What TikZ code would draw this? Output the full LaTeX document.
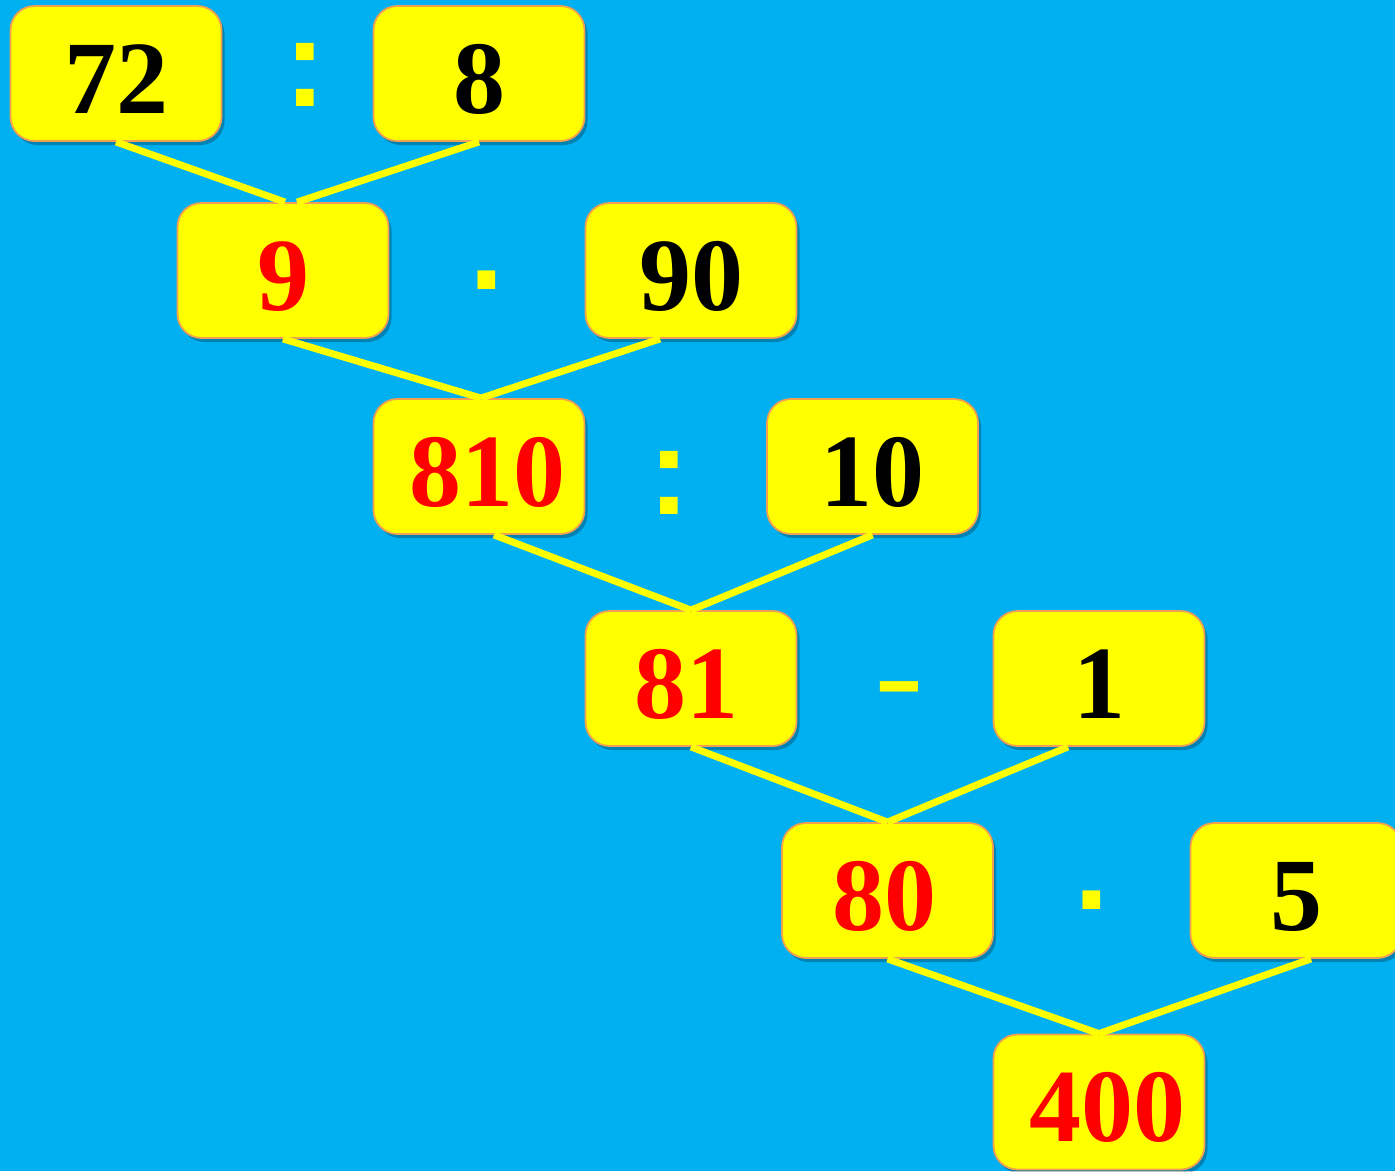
\documentclass[tikz,border=0pt]{standalone}
\usepackage{fontspec}
\setmainfont{Liberation Serif}
\newfontfamily\opfont{Liberation Sans}
\usetikzlibrary{shadows}
\definecolor{bgblue}{RGB}{0,176,240}
\definecolor{boxyellow}{RGB}{255,255,0}
\definecolor{boxedge}{RGB}{240,160,80}
\definecolor{ansred}{RGB}{255,0,0}
\tikzset{
  numbox/.style={draw=boxedge, line width=1.8pt, fill=boxyellow, rounded corners=24pt,
    minimum width=211pt, minimum height=135pt, inner sep=0pt,
    text height=79pt, text depth=0pt,
    font=\fontsize{104}{110}\selectfont\bfseries,
    drop shadow={shadow xshift=3pt, shadow yshift=-4pt, opacity=0.25, fill=black}},
  given/.style={numbox, text=black},
  result/.style={numbox, text=ansred},
  opsign/.style={text=boxyellow, inner sep=0pt, font=\fontsize{125}{130}\selectfont\opfont\bfseries},
  link/.style={draw=boxyellow, line width=7pt}
}
\begin{document}
\begin{tikzpicture}[x=1pt,y=-1pt]
\fill[bgblue] (0,0) rectangle (1395,1171);
\useasboundingbox (0,0) rectangle (1395,1171);
% row 1
\node[given]  (a) at (116,73.5) {72};
\node[opsign] (o1) at (305.5,74.5) {:};
\node[given]  (b) at (479,73.5) {8};
% row 2
\node[result] (c) at (283,270.5) {9};
\node[opsign] (o2) at (487,280) {.};
\node[given]  (d) at (691,270.5) {90};
% row 3
\node[result] (e) at (479,466.5) {\hspace*{16pt}810};
\node[opsign] (o3) at (669,483) {:};
\node[given]  (f) at (872.5,466.5) {10};
% row 4
\node[result] (g) at (691,678.5) {\hspace*{-10pt}81};
\node[opsign] (o4) at (899,696) {\scalebox{1.2}[0.7]{-}};
\node[given]  (h) at (1099,678.5) {1};
% row 5
\node[result] (i) at (887.5,890.5) {\hspace*{-6pt}80};
\node[opsign] (o5) at (1092,900) {.};
\node[given]  (j) at (1296,890.5) {5};
% row 6
\node[result] (k) at (1099,1102) {\hspace*{16pt}400};
% connectors
\draw[link] (a.south) -- ([xshift=2pt]c.north);
\draw[link] (b.south) -- ([xshift=14pt]c.north);
\draw[link] (c.south) -- ([xshift=2pt]e.north);
\draw[link] ([xshift=-31pt]d.south) -- ([xshift=2pt]e.north);
\draw[link] ([xshift=15pt]e.south) -- (g.north);
\draw[link] (f.south) -- (g.north);
\draw[link] (g.south) -- (i.north);
\draw[link] ([xshift=-31pt]h.south) -- (i.north);
\draw[link] (i.south) -- (k.north);
\draw[link] ([xshift=15pt]j.south) -- (k.north);
\end{tikzpicture}
\end{document}
